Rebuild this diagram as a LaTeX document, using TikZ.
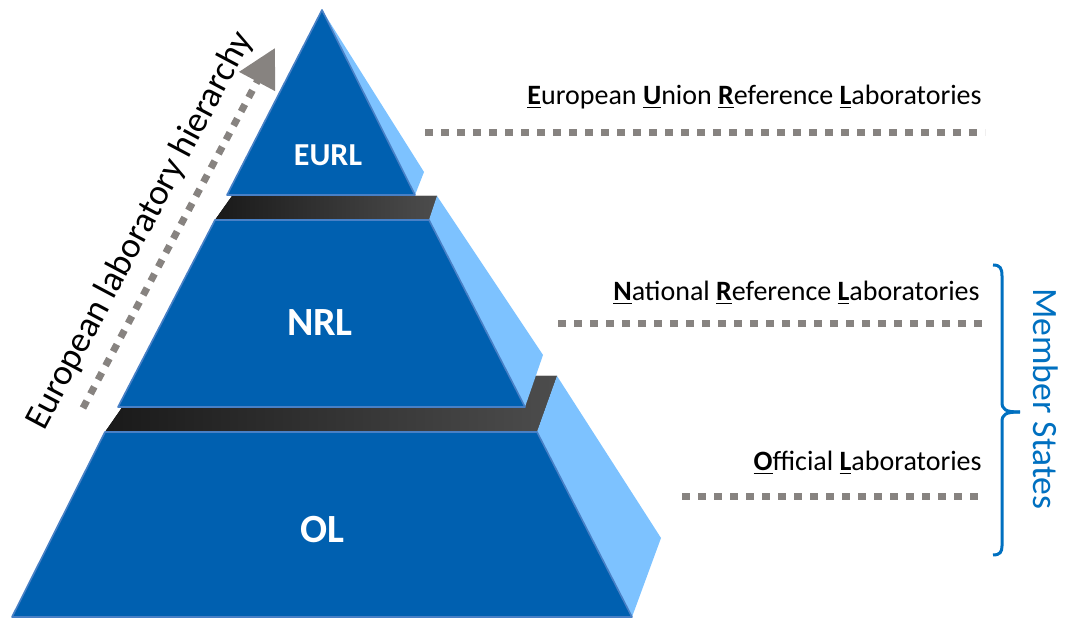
\documentclass[tikz,border=0pt]{standalone}
\usepackage{fontspec}
\setmainfont{Carlito}
\usetikzlibrary{arrows.meta}
\definecolor{front}{RGB}{0,96,176}
\definecolor{side}{RGB}{125,194,255}
\definecolor{edge}{RGB}{72,128,198}
\definecolor{dots}{RGB}{135,131,128}
\definecolor{msblue}{RGB}{0,112,192}
\begin{document}
\begin{tikzpicture}[x=0.5pt, y=-0.5pt,
  face/.style={fill=front, draw=edge, line width=0.8pt, line join=round},
  sideface/.style={fill=side},
  band/.style={left color=black!90, right color=black!70},
  leader/.style={draw=dots, line width=3.5pt, dash pattern=on 4pt off 4pt},
  lab/.style={anchor=east, inner sep=0pt, font=\fontsize{14}{17}\selectfont},
  tier/.style={text=white, inner sep=0pt}]
\useasboundingbox (0,0) rectangle (1072,619);

% Нижний уровень
\fill[band] (144,376) -- (557,376) -- (537,432) -- (105,432) -- cycle;
\fill[sideface] (557,376) -- (661,538) -- (632,617) -- (537,432) -- cycle;
\draw[face] (105,432) -- (537,432) -- (632,617) -- (12,617) -- cycle;
\node (ol) [tier, font=\bfseries\fontsize{20}{24}\selectfont] at (322,530) {OL};

% Средний уровень
\fill[band] (232,196) -- (437,196) -- (429,220) -- (215,220) -- cycle;
\fill[sideface] (437,196) -- (543,355) -- (525,407) -- (429,220) -- cycle;
\draw[face] (215,220) -- (429,220) -- (525,407) -- (118,407) -- cycle;
\node (nrl) [tier, font=\bfseries\fontsize{20}{24}\selectfont] at (320,323) {NRL};

% Верхний уровень
\fill[sideface] (322,10) -- (424,172) -- (415,195) -- cycle;
\draw[face] (322,10) -- (415,195) -- (227,195) -- cycle;
\node (eurl) [tier, font=\bfseries\fontsize{16}{19}\selectfont] at (328,155) {EURL};

% Иерархия
\coordinate (hierA) at (83,408);
\coordinate (hierB) at (275,48);
\draw[leader, -{Triangle[length=19pt, width=19.5pt]}] (hierA) -- (hierB);
\node (hier) [rotate=62, font=\fontsize{18}{21}\selectfont] at (140,231) {European laboratory hierarchy};

% Подписи
\node (eurllab) [lab] at (982,97) {\textbf{\underline{E}}uropean \textbf{\underline{U}}nion \textbf{\underline{R}}eference \textbf{\underline{L}}aboratories};
\node (nrllab) [lab] at (980,293) {\textbf{\underline{N}}ational \textbf{\underline{R}}eference \textbf{\underline{L}}aboratories};
\node (ollab) [lab] at (982,463) {\textbf{\underline{O}}fficial \textbf{\underline{L}}aboratories};

\coordinate (eurlA) at (425,133);
\coordinate (eurlB) at (985,133);
\coordinate (nrlA) at (558,324);
\coordinate (nrlB) at (982,324);
\coordinate (olA) at (682,497);
\coordinate (olB) at (982,497);
\draw[leader] (eurlA) -- (eurlB);
\draw[leader] (nrlA) -- (nrlB);
\draw[leader] (olA) -- (olB);

% Member States
\draw[msblue, line width=1.5pt] (993,265) .. controls (1000,265) and (1002,268) .. (1002,276) -- (1002,402) .. controls (1002,410) and (1006,412) .. (1020,412);
\draw[msblue, line width=1.5pt] (1020,412) .. controls (1006,412) and (1002,414) .. (1002,422) -- (1002,546) .. controls (1002,552) and (1000,555) .. (993,555);
\node (ms) [rotate=-90, text=msblue, font=\fontsize{17.8}{21}\selectfont] at (1046,399) {Member States};
\end{tikzpicture}
\end{document}
